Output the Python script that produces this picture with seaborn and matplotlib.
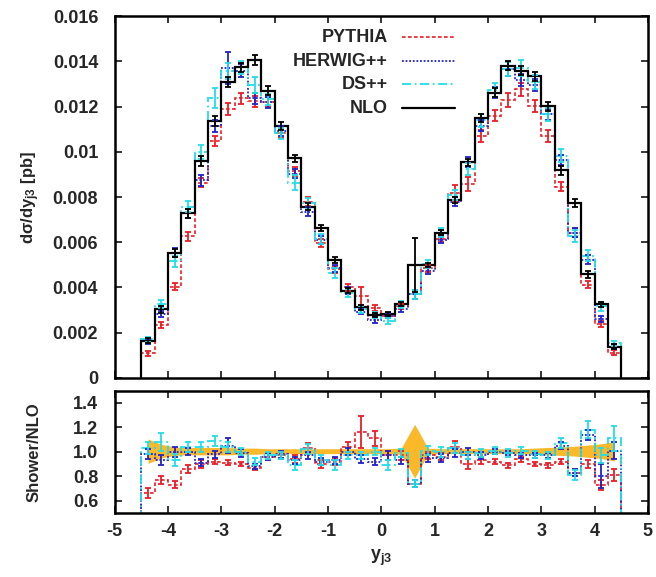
import numpy as np
import matplotlib
matplotlib.use("Agg")
import matplotlib.pyplot as plt
from matplotlib.lines import Line2D
from matplotlib.ticker import FuncFormatter, MultipleLocator
import seaborn as sns

# bins in y_j3 (width 0.25)
edges = np.linspace(-4.5, 4.5, 37)
centers = 0.5 * (edges[:-1] + edges[1:])

# d sigma / d y_j3 in units of 1e-3 pb
nlo = [1.65, 3.04, 5.54, 7.28, 9.60, 11.37, 13.07, 13.73, 14.06, 12.70, 11.15, 9.71,
       7.57, 6.62, 5.22, 3.86, 3.12, 2.78, 2.83, 3.27, 4.99, 4.99, 6.42, 7.87,
       9.53, 11.50, 12.61, 13.80, 13.58, 13.35, 12.02, 9.19, 7.75, 4.58, 3.26, 1.38]
nlo_err = [0.12, 0.15, 0.18, 0.20, 0.22, 0.22, 0.22, 0.22, 0.20, 0.20, 0.18, 0.15,
           0.15, 0.14, 0.14, 0.12, 0.10, 0.10, 0.10, 0.10, 1.20, 0.10, 0.12, 0.14,
           0.16, 0.18, 0.20, 0.20, 0.20, 0.20, 0.20, 0.20, 0.18, 0.15, 0.12, 0.10]

pythia = [1.09, 2.34, 4.04, 6.26, 8.64, 10.46, 11.89, 12.36, 12.23, 12.19, 10.82, 9.13,
          7.80, 5.96, 4.80, 4.01, 3.62, 3.09, 2.75, 3.17, 3.69, 4.84, 6.16, 8.18,
          8.58, 10.70, 11.60, 12.28, 12.77, 12.02, 10.70, 8.45, 6.43, 4.12, 2.38, 1.12]
pythia_err = [0.10, 0.12, 0.15, 0.20, 0.20, 0.22, 0.25, 0.25, 0.25, 0.22, 0.22, 0.20,
              0.20, 0.18, 0.16, 0.15, 0.40, 0.15, 0.12, 0.12, 0.20, 0.15, 0.15, 0.35,
              0.30, 0.25, 0.25, 0.30, 0.28, 0.25, 0.25, 0.20, 0.20, 0.15, 0.12, 0.10]

herwig = [1.62, 2.83, 5.54, 7.28, 8.74, 11.14, 13.72, 13.59, 12.37, 12.19, 10.93, 9.03,
          7.34, 6.09, 4.85, 3.86, 2.93, 2.56, 2.75, 3.04, 3.69, 4.74, 6.10, 7.79,
          9.53, 11.16, 12.61, 13.66, 13.17, 12.95, 11.66, 9.65, 6.43, 5.22, 2.61, 1.39]
herwig_err = [0.12, 0.15, 0.20, 0.20, 0.25, 0.25, 0.70, 0.30, 0.25, 0.25, 0.22, 0.20,
              0.20, 0.18, 0.16, 0.15, 0.12, 0.12, 0.12, 0.12, 0.20, 0.15, 0.15, 0.20,
              0.22, 0.25, 0.25, 0.30, 0.28, 0.25, 0.25, 0.22, 0.20, 0.20, 0.15, 0.10]

dspp = [1.70, 3.28, 5.15, 7.57, 9.98, 12.39, 13.59, 13.73, 12.94, 12.32, 10.82, 8.64,
        7.72, 6.16, 4.65, 3.74, 3.03, 2.78, 2.52, 3.24, 3.69, 5.04, 6.42, 8.11,
        9.24, 11.39, 12.74, 13.66, 13.72, 13.08, 11.66, 9.83, 6.28, 5.40, 3.16, 1.53]
dspp_err = [0.12, 0.18, 0.25, 0.25, 0.30, 0.45, 0.35, 0.30, 0.35, 0.25, 0.25, 0.35,
            0.25, 0.22, 0.22, 0.18, 0.15, 0.15, 0.15, 0.15, 0.20, 0.18, 0.20, 0.22,
            0.25, 0.30, 0.30, 0.30, 0.35, 0.30, 0.30, 0.30, 0.28, 0.25, 0.20, 0.12]

# Shower / NLO ratios
pythia_ratio = [0.66, 0.77, 0.73, 0.86, 0.90, 0.92, 0.91, 0.90, 0.87, 0.96, 0.97, 0.94,
                1.03, 0.90, 0.92, 1.04, 1.16, 1.11, 0.97, 0.97, 0.74, 0.97, 0.96, 1.04,
                0.90, 0.93, 0.92, 0.89, 0.94, 0.90, 0.89, 0.92, 0.83, 0.90, 0.73, 0.81]
pythia_ratio_err = [0.04, 0.03, 0.03, 0.03, 0.03, 0.02, 0.02, 0.02, 0.02, 0.03, 0.03, 0.03,
                    0.04, 0.03, 0.03, 0.04, 0.13, 0.06, 0.04, 0.04, 0.03, 0.03, 0.03, 0.05,
                    0.04, 0.03, 0.02, 0.02, 0.02, 0.02, 0.02, 0.02, 0.03, 0.03, 0.04, 0.05]
herwig_ratio = [0.98, 0.93, 1.00, 1.00, 0.91, 0.98, 1.05, 0.99, 0.88, 0.96, 0.98, 0.93,
                0.97, 0.92, 0.93, 1.00, 0.94, 0.92, 0.97, 0.93, 0.74, 0.95, 0.95, 0.99,
                1.00, 0.97, 1.00, 0.99, 0.97, 0.97, 0.97, 1.05, 0.83, 1.14, 0.80, 1.01]
herwig_ratio_err = [0.04, 0.04, 0.04, 0.03, 0.03, 0.03, 0.06, 0.03, 0.02, 0.03, 0.03, 0.03,
                    0.03, 0.03, 0.03, 0.03, 0.03, 0.03, 0.04, 0.03, 0.03, 0.03, 0.03, 0.03,
                    0.03, 0.03, 0.02, 0.02, 0.02, 0.02, 0.02, 0.03, 0.03, 0.04, 0.10, 0.07]
dspp_ratio = [1.03, 1.08, 0.93, 1.04, 1.04, 1.09, 1.04, 1.00, 0.92, 0.97, 0.97, 0.89,
              1.02, 0.93, 0.89, 0.97, 0.97, 1.00, 0.89, 0.99, 0.74, 1.01, 1.00, 1.03,
              0.97, 0.99, 1.01, 0.99, 1.01, 0.98, 0.97, 1.07, 0.81, 1.18, 0.97, 1.11]
dspp_ratio_err = [0.05, 0.07, 0.05, 0.04, 0.04, 0.04, 0.04, 0.03, 0.03, 0.03, 0.03, 0.04,
                  0.04, 0.04, 0.04, 0.03, 0.03, 0.03, 0.04, 0.03, 0.03, 0.04, 0.04, 0.04,
                  0.03, 0.03, 0.03, 0.03, 0.03, 0.03, 0.03, 0.04, 0.04, 0.07, 0.06, 0.10]

# NLO uncertainty band in the ratio
band_lo = [0.905, 0.950, 0.970, 0.975, 0.975, 0.975, 0.975, 0.980, 0.980, 0.985, 0.985, 0.985,
           0.985, 0.985, 0.985, 0.985, 0.985, 0.985, 0.985, 0.980, 0.785, 0.980, 0.985, 0.985,
           0.985, 0.985, 0.985, 0.985, 0.985, 0.980, 0.975, 0.970, 0.965, 0.955, 0.945, 0.925]
band_hi = [1.105, 1.060, 1.040, 1.035, 1.035, 1.035, 1.035, 1.030, 1.030, 1.025, 1.025, 1.025,
           1.025, 1.025, 1.025, 1.025, 1.025, 1.025, 1.025, 1.030, 1.225, 1.030, 1.025, 1.025,
           1.025, 1.025, 1.025, 1.025, 1.025, 1.030, 1.035, 1.040, 1.045, 1.055, 1.065, 1.085]

labels = ["PYTHIA", "HERWIG++", "DS++", "NLO"]
colors = ["#ee1c24", "#2222cc", "#22dde8", "black"]
styles = [(0, (2.2, 1.4)), (0, (1, 1)), (0, (5, 2, 1, 2)), "-"]
widths = [1.2, 1.3, 1.3, 1.6]

sns.set_theme(style="ticks")
plt.rcParams["font.family"] = ["Liberation Sans", "DejaVu Sans"]
plt.rcParams["font.weight"] = "bold"
plt.rcParams["axes.unicode_minus"] = False
plt.rcParams["mathtext.fontset"] = "custom"
plt.rcParams["mathtext.rm"] = "Liberation Sans:bold"
plt.rcParams["mathtext.it"] = "Liberation Sans:bold"
plt.rcParams["mathtext.bf"] = "Liberation Sans:bold"

fig = plt.figure(figsize=(6.56, 5.77), dpi=100)
ax1 = fig.add_axes([0.175, 0.345, 0.8125, 0.627])
ax2 = fig.add_axes([0.175, 0.111, 0.8125, 0.212])

top_vals = [pythia, herwig, dspp, nlo]
top_errs = [pythia_err, herwig_err, dspp_err, nlo_err]
for vals, errs, c, ls, lw in zip(top_vals, top_errs, colors, styles, widths):
    v = np.array(vals) * 1e-3
    e = np.array(errs) * 1e-3
    ax1.stairs(v, edges, baseline=0, fill=False, color=c, linestyle=ls, linewidth=lw)
    ax1.errorbar(centers, v, yerr=e, fmt="none", ecolor=c, elinewidth=1.3,
                 capsize=2.5, capthick=1.3)

# ratio panel
ax2.fill_between(centers, band_lo, band_hi, color="#fbb829", linewidth=0, zorder=1)
rat_vals = [pythia_ratio, herwig_ratio, dspp_ratio]
rat_errs = [pythia_ratio_err, herwig_ratio_err, dspp_ratio_err]
for vals, errs, c, ls, lw in zip(rat_vals, rat_errs, colors[:3], styles[:3], widths[:3]):
    ax2.stairs(vals, edges, baseline=0, fill=False, color=c, linestyle=ls,
               linewidth=lw, zorder=2)
    ax2.errorbar(centers, vals, yerr=errs, fmt="none", ecolor=c, elinewidth=1.3,
                 capsize=2.5, capthick=1.3, zorder=3)

for ax in (ax1, ax2):
    ax.set_xlim(-5, 5)
    ax.xaxis.set_major_locator(MultipleLocator(1))
    ax.tick_params(direction="in", top=True, right=True, length=5, width=1.3,
                   labelsize=13)
    ax.tick_params(axis="y", pad=12)
    ax.tick_params(axis="x", pad=7)
    for sp in ax.spines.values():
        sp.set_linewidth(1.8)
        sp.set_color("black")
    for t in ax.get_xticklabels() + ax.get_yticklabels():
        t.set_fontweight("bold")

ax1.set_ylim(0, 0.016)
ax1.yaxis.set_major_locator(MultipleLocator(0.002))
ax1.yaxis.set_major_formatter(FuncFormatter(lambda v, p: "%g" % round(v, 4)))
ax1.tick_params(labelbottom=False)
ax1.set_ylabel("dσ/dy$_{\\mathrm{j3}}$ [pb]", fontsize=12, fontweight="bold")

ax2.set_ylim(0.5, 1.5)
ax2.set_yticks([0.6, 0.8, 1.0, 1.2, 1.4])
ax2.yaxis.set_major_formatter(FuncFormatter(lambda v, p: "%.1f" % v))
ax2.set_ylabel("Shower/NLO", fontsize=12, fontweight="bold")
ax2.set_xlabel("y$_{\\mathrm{j3}}$", fontsize=13, fontweight="bold", labelpad=6)
ax1.yaxis.set_label_coords(-0.137, 0.5)
ax2.yaxis.set_label_coords(-0.137, 0.5)

# gnuplot-style key: label right-aligned, line sample to its right
key_rows = [0.942, 0.876, 0.812, 0.746]
for lab, c, ls, lw, yk in zip(labels, colors, styles, widths, key_rows):
    ax1.text(0.512, yk, lab, transform=ax1.transAxes, ha="right", va="center",
             fontsize=13, fontweight="bold")
    ax1.add_line(Line2D([0.538, 0.638], [yk, yk], transform=ax1.transAxes,
                        color=c, linestyle=ls, linewidth=lw))

fig.savefig("out.png", dpi=100)
